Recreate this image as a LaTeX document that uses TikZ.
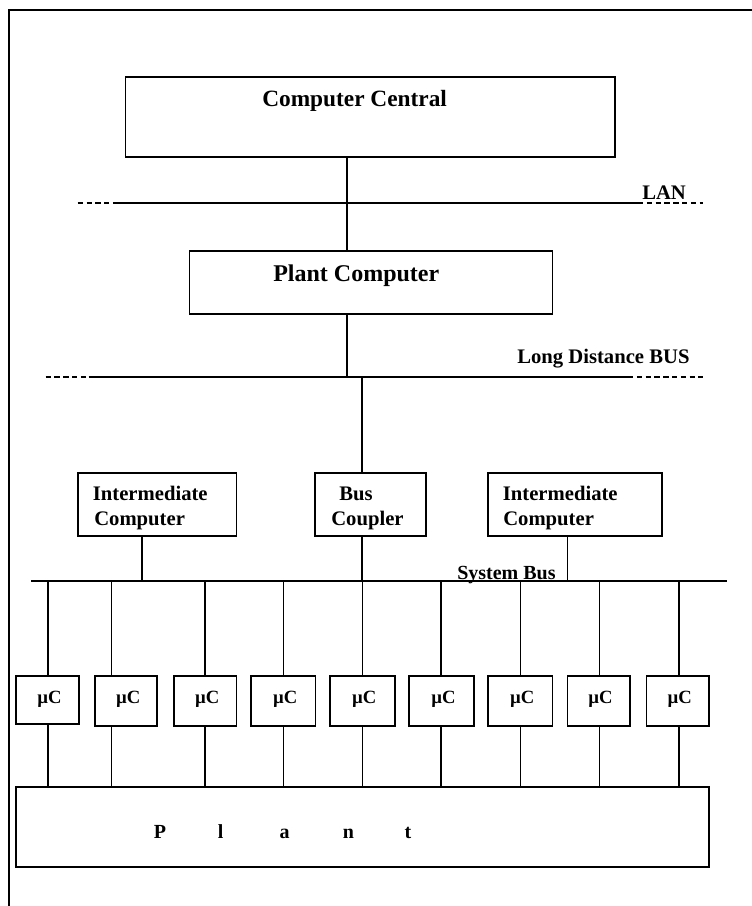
\documentclass[tikz,border=0pt]{standalone}
\usepackage{fontspec}
\setmainfont{Liberation Serif}
\usetikzlibrary{fit}
\begin{document}
\begin{tikzpicture}[x=0.75pt,y=-0.75pt,
  box/.style={draw,line width=1.25pt,inner sep=0pt},
  wire/.style={line width=1.2pt},
  dashwire/.style={line width=1.2pt,dash pattern=on 4pt off 2.6pt},
  frame/.style={line width=1.5pt},
  lbl/.style={inner sep=0pt,anchor=base west,font=\bfseries\fontsize{#1}{#1}\selectfont},
  lbl/.default=15.5,
]
\useasboundingbox (0,0) rectangle (752,906);
% frame
\draw[frame] (8.6,906) -- (8.6,10) -- (752,10);

% boxes
\node[box,fit={(125.6,77) (614.8,157)}] (cc) {};
\node[box,fit={(189.5,250.7) (552.5,314)}] (pc) {};
\node[box,fit={(78,472.7) (236.4,535.7)}] (ic1) {};
\node[box,fit={(315,472.7) (426,535.7)}] (bc) {};
\node[box,fit={(488,472.7) (662,535.7)}] (ic2) {};
\node[box,fit={(15.8,787.3) (708.8,866.7)}] (plant) {};

% texts
\node[lbl=17.5] (tcc) at (262,107) {Computer Central};
\node[lbl=18] (tpc) at (273,281) {Plant Computer};
\node[lbl=15.5] (tlan) at (642,199) {LAN};
\node[lbl=15.5] (tldb) at (517,363) {Long Distance BUS};
\node[lbl=15.5] (tic1a) at (92.6,500) {Intermediate};
\node[lbl=15.5] (tic1b) at (94,525) {Computer};
\node[lbl=15.5] (tbca) at (339,500) {Bus};
\node[lbl=15.5] (tbcb) at (331,525) {Coupler};
\node[lbl=15.5] (tic2a) at (502.6,500) {Intermediate};
\node[lbl=15.5] (tic2b) at (503,525) {Computer};

% bus lines
\coordinate (lanA) at (77.7,203);
\coordinate (lanB) at (117.5,203);
\coordinate (lanC) at (638,203);
\coordinate (lanD) at (702.6,203);
\coordinate (lanV) at (347,203);
\draw[dashwire] (lanA) -- (lanB);
\draw[wire] (lanB) -- (lanC);
\draw[dashwire] (lanC) -- (lanD);

\coordinate (ldbA) at (45.6,377);
\coordinate (ldbB) at (88.7,377);
\coordinate (ldbC) at (628,377);
\coordinate (ldbD) at (702.6,377);
\coordinate (ldbV) at (347,377);
\coordinate (ldbW) at (362,377);
\draw[dashwire] (ldbA) -- (ldbB);
\draw[wire] (ldbB) -- (ldbC);
\draw[dashwire] (ldbC) -- (ldbD);

\coordinate (sbA) at (31,580.7);
\coordinate (sbB) at (726.6,580.7);
\draw[wire] (sbA) -- (sbB);
\node[lbl=15] (tsb) at (457,579) {System Bus};

% connectors
\draw[wire] (cc.south -| lanV) -- (pc.north -| lanV);
\draw[wire] (pc.south -| ldbV) -- (ldbV);
\draw[wire] (ldbW) -- (bc.north -| ldbW);
\coordinate (s1) at (142,580.7);
\coordinate (s2) at (362,580.7);
\coordinate (s3) at (567.4,580.7);
\draw[wire] (ic1.south -| s1) -- (s1);
\draw[wire] (bc.south -| s2) -- (s2);
\draw[wire] (ic2.south -| s3) -- (s3);

% microcontrollers
\foreach \i/\xa/\xb/\xd/\yb in {1/15.8/79.1/48/724, 2/95/157.3/111.3/725.7, 3/174/236.4/204.8/725.7,
  4/250.8/315.6/283.4/725.7, 5/330/394.7/362.6/725.7, 6/409/473.8/441.2/725.7,
  7/488/552.5/520.4/725.7, 8/567.4/629.7/599.5/725.7, 9/646.5/708.8/678.7/725.7}{
  \node[box,fit={(\xa,676) (\xb,\yb)}] (mu\i) {};
  \node[inner sep=0pt,anchor=base,font=\bfseries\fontsize{14}{14}\selectfont] (tmu\i) at ({(\xa+\xb)/2+2},703) {µC};
  \coordinate (d\i) at (\xd,580.7);
  \draw[wire] (d\i) -- (mu\i.north -| d\i);
  \draw[wire] (mu\i.south -| d\i) -- (plant.north -| d\i);
}

\node[lbl=15] (tplant) at (153.5,838) {P\hspace{39pt}l\hspace{42pt}a\hspace{40pt}n\hspace{38pt}t};
\end{tikzpicture}
\end{document}
